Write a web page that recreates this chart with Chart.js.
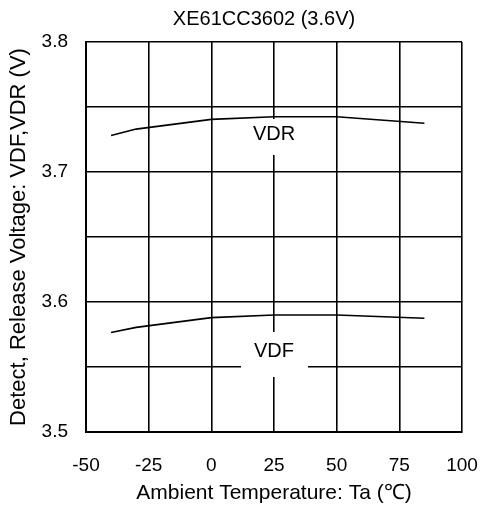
<!DOCTYPE html>
<html>
<head>
<meta charset="utf-8">
<script src="https://cdn.jsdelivr.net/npm/chart.js@4"></script>
<style>
  html, body { margin: 0; padding: 0; background: #fff; }
  #wrap { width: 480px; height: 511px; }
</style>
</head>
<body>
<div id="wrap"><canvas id="c" width="480" height="511"></canvas></div>
<script>
// Ambient temperature (°C) at which the thresholds were measured
const temperatures = [-40, -30, 0, 25, 50, 85];
// Release voltage VDR (V)
const vdrValues = [3.728, 3.733, 3.7405, 3.7425, 3.7425, 3.7375];
// Detect voltage VDF (V)
const vdfValues = [3.5765, 3.5805, 3.588, 3.590, 3.590, 3.5875];
// Curve names written on the plot
const curveNames = ['VDR', 'VDF'];
// Axis ranges
const xTicks = [-50, -25, 0, 25, 50, 75, 100];
const yRange = [3.5, 3.8];
const chartTitle = 'XE61CC3602 (3.6V)';

const FONT = "'Liberation Sans', Arial, sans-serif";

function toPoints(xs, ys) {
  return xs.map((x, i) => ({ x: x, y: ys[i] }));
}

// Heading above the plot, centred a little left of the plot middle
const heading = {
  id: 'heading',
  afterDraw(chart, args, opts) {
    const { ctx, chartArea } = chart;
    ctx.save();
    ctx.fillStyle = '#000';
    ctx.font = opts.font;
    ctx.textAlign = 'center';
    ctx.textBaseline = 'middle';
    ctx.fillText(opts.text, (chartArea.left + chartArea.right) / 2 + opts.dx, opts.y);
    ctx.restore();
  }
};

// Writes each curve name on a white patch that hides the grid behind it
const curveLabels = {
  id: 'curveLabels',
  beforeDatasetsDraw(chart, args, opts) {
    const { ctx, scales } = chart;
    ctx.save();
    opts.items.forEach(item => {
      const cx = scales.x.getPixelForValue(item.x);
      const cy = scales.y.getPixelForValue(item.y);
      ctx.fillStyle = '#fff';
      ctx.fillRect(cx - item.box[0], cy - item.box[1], item.box[0] + item.box[2], item.box[1] + item.box[3]);
      ctx.fillStyle = '#000';
      ctx.font = opts.font;
      ctx.textAlign = 'center';
      ctx.textBaseline = 'middle';
      ctx.fillText(item.text, cx, cy);
    });
    ctx.restore();
  }
};

new Chart(document.getElementById('c'), {
  type: 'line',
  data: {
    datasets: [
      { label: curveNames[0], data: toPoints(temperatures, vdrValues) },
      { label: curveNames[1], data: toPoints(temperatures, vdfValues) }
    ]
  },
  options: {
    responsive: false,
    devicePixelRatio: 1,
    animation: false,
    layout: { padding: { left: 0, right: 0, top: 42, bottom: 0 } },
    elements: {
      line: { borderColor: '#000', borderWidth: 1.6, tension: 0, fill: false },
      point: { radius: 0, hoverRadius: 0 }
    },
    plugins: {
      legend: { display: false },
      tooltip: { enabled: false },
      title: { display: false },
      heading: { text: chartTitle, font: '20px ' + FONT, y: 19, dx: -10 },
      curveLabels: {
        font: '20px ' + FONT,
        items: [
          { text: curveNames[0], x: 25, y: 3.7285, box: [33, 16, 34, 20] },
          { text: curveNames[1], x: 25, y: 3.5623, box: [33, 19, 34, 26] }
        ]
      }
    },
    scales: {
      x: {
        type: 'linear',
        min: xTicks[0],
        max: xTicks[xTicks.length - 1],
        afterBuildTicks(scale) { scale.ticks = xTicks.map(v => ({ value: v })); },
        afterFit(scale) {
          scale.height = 79;
          scale.paddingLeft = 0;
          scale.paddingRight = 18;
        },
        grid: { color: '#000', lineWidth: 1.6, drawTicks: false },
        border: { color: '#000', width: 2 },
        ticks: {
          color: '#000',
          padding: 22,
          maxRotation: 0,
          font: { family: FONT, size: 19 },
          callback: v => String(v)
        },
        title: {
          display: true,
          text: 'Ambient Temperature: Ta (\u2103)',
          color: '#000',
          font: { family: FONT, size: 21 },
          padding: { top: 0, bottom: 5 }
        }
      },
      y: {
        min: yRange[0],
        max: yRange[1],
        afterFit(scale) {
          scale.width = 86;
          scale.paddingTop = 0;
          scale.paddingBottom = 0;
        },
        grid: { color: '#000', lineWidth: 1.6, drawTicks: false },
        border: { color: '#000', width: 2 },
        ticks: {
          stepSize: 0.05,
          color: '#000',
          padding: 18,
          font: { family: FONT, size: 19 },
          callback: v => {
            const t = v * 10;
            return Math.abs(t - Math.round(t)) < 1e-6 ? v.toFixed(1) : '';
          }
        },
        title: {
          display: true,
          text: 'Detect, Release Voltage: VDF,VDR (V)',
          color: '#000',
          font: { family: FONT, size: 22 },
          padding: { top: 6, bottom: 0 }
        }
      }
    }
  },
  plugins: [curveLabels, heading]
});
</script>
</body>
</html>
